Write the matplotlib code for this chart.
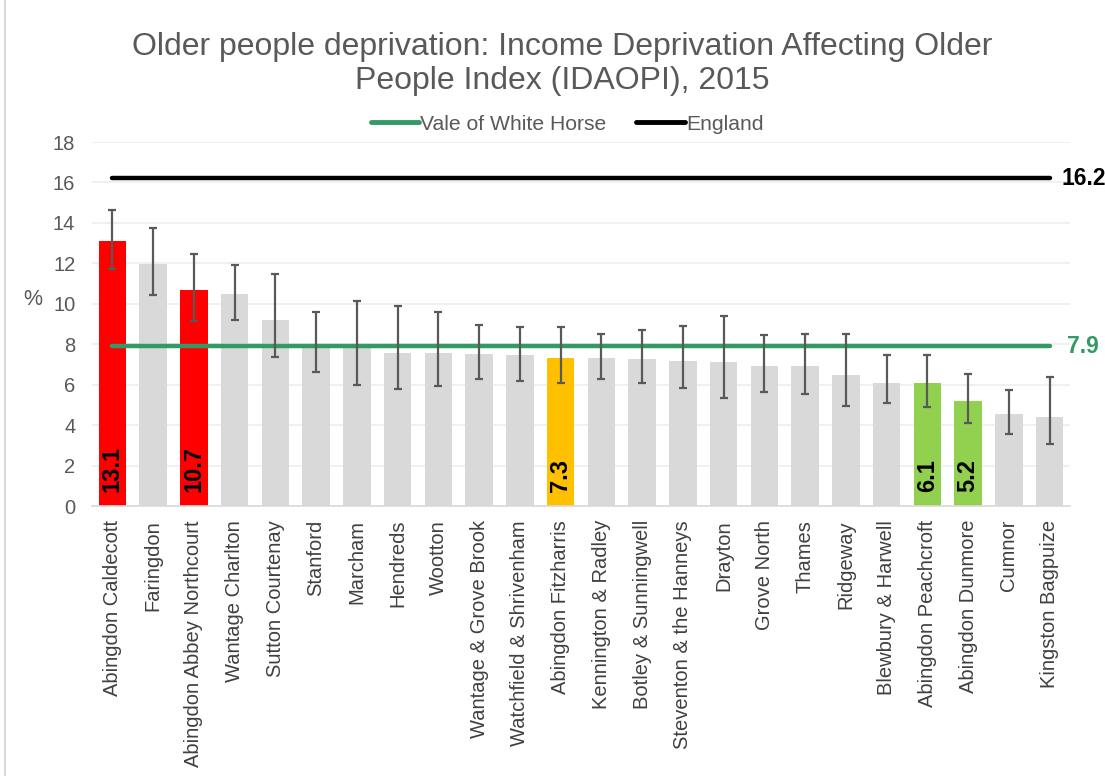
import matplotlib
matplotlib.use("Agg")
import matplotlib.pyplot as plt
from matplotlib.lines import Line2D
import numpy as np

plt.rcParams['font.family'] = ['Liberation Sans', 'DejaVu Sans']

wards = ["Abingdon Caldecott", "Faringdon", "Abingdon Abbey Northcourt", "Wantage Charlton",
         "Sutton Courtenay", "Stanford", "Marcham", "Hendreds", "Wootton",
         "Wantage & Grove Brook", "Watchfield & Shrivenham", "Abingdon Fitzharris",
         "Kennington & Radley", "Botley & Sunningwell", "Steventon & the Hanneys",
         "Drayton", "Grove North", "Thames", "Ridgeway", "Blewbury & Harwell",
         "Abingdon Peachcroft", "Abingdon Dunmore", "Cumnor", "Kingston Bagpuize"]
values = [13.1, 11.95, 10.7, 10.5, 9.2, 7.8, 7.8, 7.55, 7.55, 7.5, 7.45, 7.3,
          7.3, 7.25, 7.15, 7.1, 6.9, 6.9, 6.5, 6.1, 6.06, 5.2, 4.55, 4.4]
ci_upper = [14.65, 13.75, 12.45, 11.9, 11.45, 9.6, 10.15, 9.87, 9.57, 8.95, 8.85, 8.85,
            8.53, 8.68, 8.9, 9.4, 8.47, 8.53, 8.53, 7.45, 7.45, 6.52, 5.72, 6.38]
ci_lower = [11.7, 10.42, 9.17, 9.22, 7.38, 6.63, 5.97, 5.77, 5.92, 6.26, 6.2, 6.08,
            6.3, 6.08, 5.83, 5.33, 5.63, 5.53, 4.93, 5.1, 4.9, 4.12, 3.58, 3.05]
highlight = {"Abingdon Caldecott": "#FF0000", "Abingdon Abbey Northcourt": "#FF0000",
             "Abingdon Fitzharris": "#FFC000", "Abingdon Peachcroft": "#92D050",
             "Abingdon Dunmore": "#92D050"}
vale_value = 7.9
england_value = 16.2

GREEN = "#339966"
GREY_TXT = "#595959"

fig = plt.figure(figsize=(11.05, 7.76), dpi=100)
ax = fig.add_axes([92/1105, 1 - 506/776, (1070-92)/1105, (506-142)/776])

x = np.arange(len(wards))
colors = [highlight.get(w, "#D9D9D9") for w in wards]
ax.bar(x, values, width=0.68, color=colors, zorder=2)

vals = np.array(values)
yerr = np.vstack([vals - np.array(ci_lower), np.array(ci_upper) - vals])
ax.errorbar(x, vals, yerr=yerr, fmt='none', ecolor="#595959", elinewidth=1.6,
            capsize=3, capthick=1.6, zorder=4)

ax.plot([x[0], x[-1]], [vale_value, vale_value], color=GREEN, lw=3.2,
        solid_capstyle='round', zorder=3)
ax.plot([x[0], x[-1]], [england_value, england_value], color="black", lw=3.2,
        solid_capstyle='round', zorder=3)

ax.text(x[-1] + 0.3, england_value, f"{england_value}", fontsize=16.5, fontweight='bold',
        color="black", va='center', ha='left', clip_on=False)
ax.text(x[-1] + 0.42, vale_value, f"{vale_value}", fontsize=16.5, fontweight='bold',
        color=GREEN, va='center', ha='left', clip_on=False)

for xi, w, v in zip(x, wards, values):
    if w in highlight:
        ax.text(xi, 0.7, f"{v:.1f}", rotation=90, ha='center', va='bottom',
                fontsize=17, fontweight='bold', color='black', zorder=5)

ax.set_xlim(-0.5, len(wards) - 0.5)
ax.set_ylim(0, 18)
ax.set_yticks(np.arange(0, 19, 2))
ax.yaxis.grid(True, color="#EEEEEE", lw=1.2, zorder=0)
ax.set_axisbelow(True)
for s in ['top', 'right', 'left']:
    ax.spines[s].set_visible(False)
ax.spines['bottom'].set_color("#D9D9D9")
ax.spines['bottom'].set_linewidth(1.2)
ax.tick_params(axis='both', length=0)
ax.tick_params(axis='y', labelsize=14.5, labelcolor=GREY_TXT, pad=12)
ax.set_xticks(x)
ax.set_xticklabels(wards, rotation=90, fontsize=14.5, color="#404040")
ax.tick_params(axis='x', pad=10)

fig.text(33/1105, 1 - 300/776, "%", fontsize=15.5, color=GREY_TXT, ha='center', va='center')

fig.text(562/1105, 1 - 64/776,
         "Older people deprivation: Income Deprivation Affecting Older\nPeople Index (IDAOPI), 2015",
         fontsize=23, color=GREY_TXT, ha='center', va='center', linespacing=1.15)

handles = [Line2D([], [], color=GREEN, lw=3.5, solid_capstyle='round'),
           Line2D([], [], color='black', lw=3.5, solid_capstyle='round')]
leg = fig.legend(handles, ["Vale of White Horse", "England"], loc='center',
                 bbox_to_anchor=(567/1105, 1 - 124/776), ncol=2, frameon=False,
                 fontsize=15.2, handlelength=2.3, handletextpad=0.05, columnspacing=1.4)
for t in leg.get_texts():
    t.set_color(GREY_TXT)

fig.add_artist(Line2D([5/1105, 5/1105], [0, 1], color="#D9D9D9", lw=1.5,
                      transform=fig.transFigure))

fig.savefig("out.png", dpi=100)
